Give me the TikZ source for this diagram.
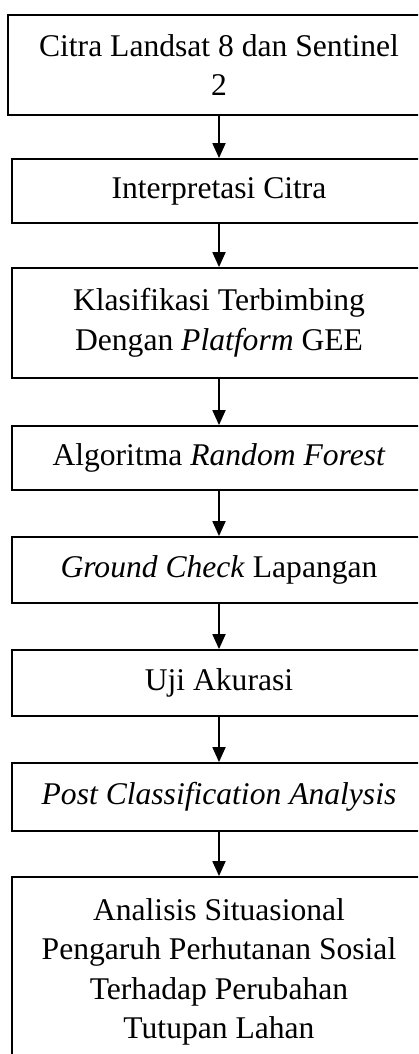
\documentclass[tikz,border=0pt]{standalone}
\usepackage{fontspec}
\setmainfont{Liberation Serif}
\usetikzlibrary{arrows.meta}
\tikzset{
  kotak/.style={draw, line width=1.8pt, inner sep=0pt, align=center,
    minimum width=414pt, font=\fontsize{31.6}{39.5}\selectfont},
  panah/.style={-{Triangle[width=13pt,length=15pt]}, line width=1.8pt}
}

\begin{document}
\begin{tikzpicture}[x=1pt,y=-1pt]
    \useasboundingbox (0,0) rectangle (418,1054);
    \begin{scope}
    \clip (0,0) rectangle (418,1054);
    \node[kotak, minimum width=422pt, minimum height=100pt] (citra) at (219,65) {Citra Landsat 8 dan Sentinel\\2};
    \node[kotak, minimum height=64pt] (interp) at (219,191) {Interpretasi Citra};
    \node[kotak, minimum height=110pt] (klas) at (219,323) {Klasifikasi Terbimbing\\Dengan \textit{Platform} GEE};
    \node[kotak, minimum height=64pt] (rf) at (219,458) {Algoritma \textit{Random Forest}};
    \node[kotak, minimum height=66pt] (ground) at (219,570) {\textit{Ground Check} Lapangan};
    \node[kotak, minimum height=66pt] (uji) at (219,683) {Uji Akurasi};
    \node[kotak, minimum height=68pt] (post) at (219,797) {\textit{Post Classification Analysis}};
    \node[kotak, minimum height=190pt] (analisis) at (219,972) {Analisis Situasional\\Pengaruh Perhutanan Sosial\\Terhadap Perubahan\\Tutupan Lahan};
    \draw[panah] (citra) -- (interp);
    \draw[panah] (interp) -- (klas);
    \draw[panah] (klas) -- (rf);
    \draw[panah] (rf) -- (ground);
    \draw[panah] (ground) -- (uji);
    \draw[panah] (uji) -- (post);
    \draw[panah] (post) -- (analisis);
    \end{scope}
\end{tikzpicture}
\end{document}
